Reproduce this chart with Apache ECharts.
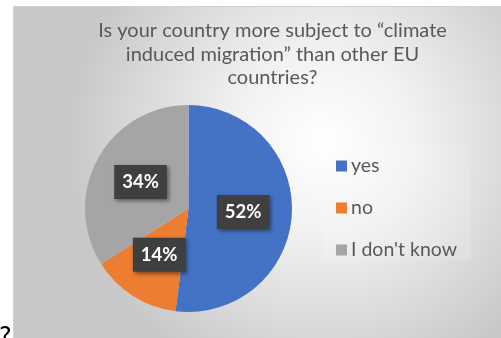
<!DOCTYPE html>
<html>
<head>
<meta charset="utf-8">
<script src="https://cdn.jsdelivr.net/npm/echarts@6/dist/echarts.min.js"></script>
<style>
  html, body { margin: 0; padding: 0; background: #ffffff; }
  #chart { width: 501px; height: 338px; }
</style>
</head>
<body>
<div id="chart"></div>
<script>
// Survey answers and their shares (%)
const categories = ['yes', 'no', "I don't know"];
const shares = [52, 14, 34];
const colors = ['#4472C4', '#ED7D31', '#A5A5A5'];
const titleLines = [
  'Is your country more subject to \u201cclimate',
  'induced migration\u201d than other EU',
  'countries?'
];

const chart = echarts.init(document.getElementById('chart'), null, { renderer: 'canvas' });

const pieData = categories.map((name, i) => ({
  name: name,
  value: shares[i],
  itemStyle: { color: colors[i] }
}));

chart.setOption({
  animation: false,
  graphic: [
    {
      // chart area with a soft radial shading
      type: 'rect',
      z: -10,
      silent: true,
      shape: { x: 13.5, y: 6.5, width: 500, height: 340 },
      style: {
        fill: new echarts.graphic.RadialGradient(0.62, 0.4, 0.75, [
          { offset: 0, color: '#ffffff' },
          { offset: 0.35, color: '#f2f2f2' },
          { offset: 1, color: '#c8c8c8' }
        ]),
        stroke: '#d0d0d0',
        lineWidth: 1
      }
    },
    {
      // faint panel behind the legend
      type: 'rect',
      z: -9,
      silent: true,
      shape: { x: 324, y: 145, width: 147, height: 115 },
      style: { fill: 'rgba(255,255,255,0.14)' }
    },
    {
      type: 'text',
      z: 5,
      silent: true,
      style: {
        x: 272.5,
        y: 19,
        text: titleLines.join('\n'),
        textAlign: 'center',
        fill: '#595959',
        font: '20px Lato',
        lineHeight: 23.5
      }
    },
    {
      // stray glyph left of the frame
      type: 'text',
      silent: true,
      style: {
        x: -1,
        y: 326,
        text: '?',
        fill: '#000000',
        font: '24px "DejaVu Sans"'
      }
    }
  ],
  legend: {
    orient: 'vertical',
    left: 336,
    top: 156,
    padding: 0,
    itemWidth: 11,
    itemHeight: 11,
    itemGap: 22,
    icon: 'rect',
    data: categories,
    textStyle: {
      color: '#595959',
      fontFamily: 'Lato',
      fontSize: 19.5,
      lineHeight: 16,
      padding: [0, 0, 0, -1]
    }
  },
  series: [
    {
      type: 'pie',
      center: [188.5, 208.5],
      radius: [0, 103.5],
      startAngle: 90,
      clockwise: true,
      data: pieData,
      label: {
        show: true,
        position: 'inside',
        formatter: '{c}%',
        color: '#ffffff',
        fontFamily: 'Lato',
        fontWeight: 'bold',
        fontSize: 18.5,
        lineHeight: 18,
        backgroundColor: '#3f3f3f',
        padding: [8, 8, 8, 8],
        shadowColor: 'rgba(0,0,0,0.45)',
        shadowBlur: 4,
        shadowOffsetX: 2,
        shadowOffsetY: 2
      },
      labelLine: { show: false },
      emphasis: { disabled: true }
    }
  ]
});
</script>
</body>
</html>
